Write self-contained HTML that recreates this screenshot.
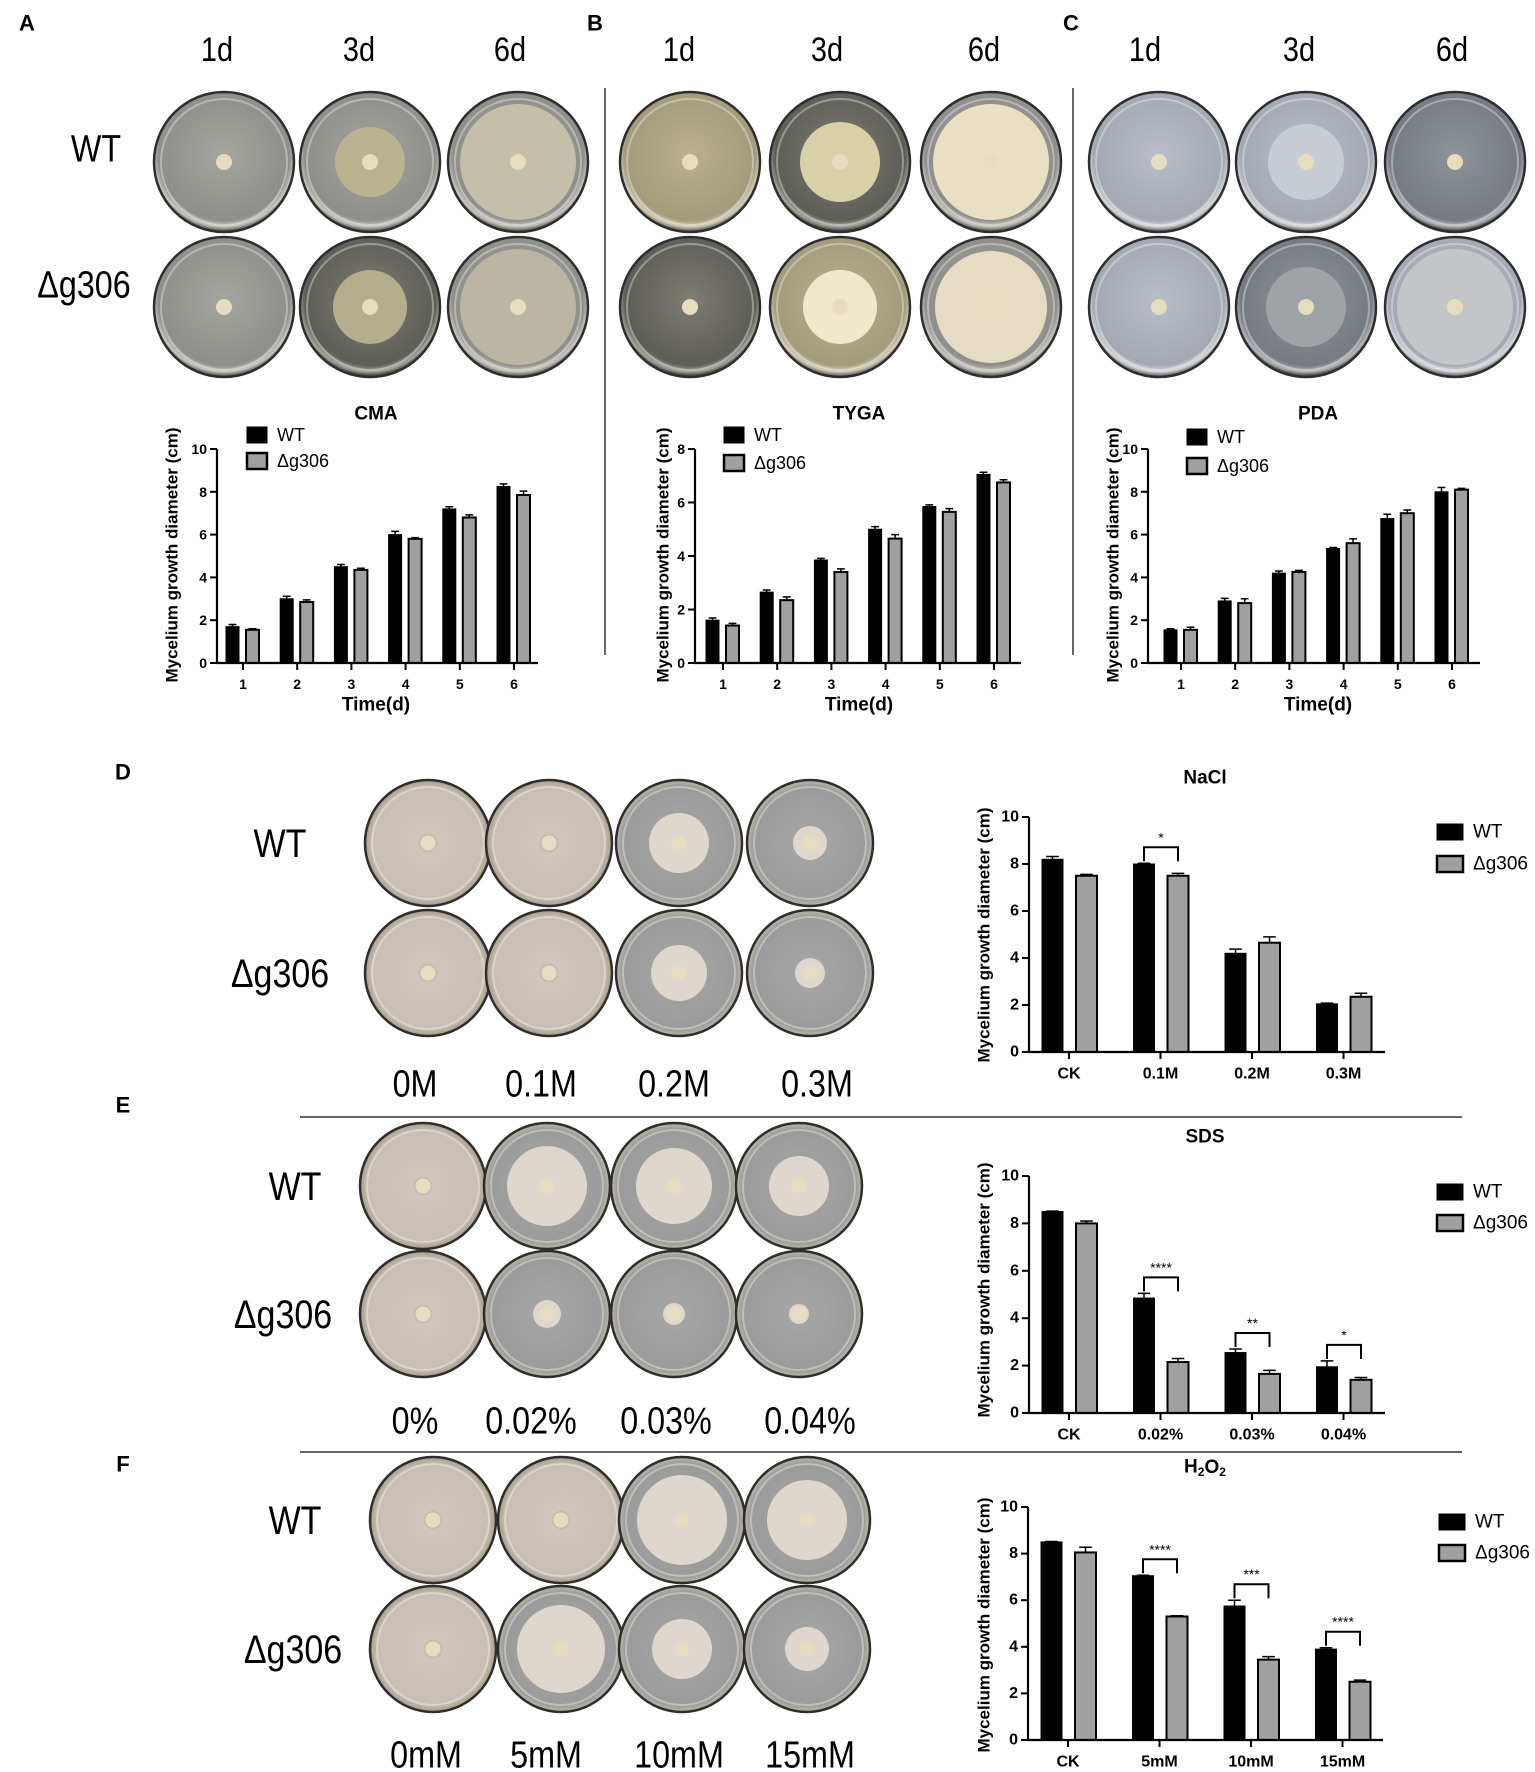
<!DOCTYPE html>
<html><head><meta charset="utf-8"><style>
html,body{margin:0;padding:0;background:#fff;}
svg{display:block;font-family:"Liberation Sans",Arial,sans-serif;}
</style></head><body>
<svg id="fig" width="1535" height="1772" viewBox="0 0 1535 1772" xmlns="http://www.w3.org/2000/svg">
<defs>
<radialGradient id="gGrey" cx="50%" cy="45%" r="55%"><stop offset="0" stop-color="#a6a6a0"/><stop offset="0.85" stop-color="#8e8e8a"/><stop offset="0.93" stop-color="#c9c7bf"/><stop offset="1" stop-color="#3c3c3c"/></radialGradient>
<radialGradient id="gDark" cx="50%" cy="45%" r="55%"><stop offset="0" stop-color="#7d7d74"/><stop offset="0.85" stop-color="#5e5e58"/><stop offset="0.93" stop-color="#a8a69b"/><stop offset="1" stop-color="#222"/></radialGradient>
<radialGradient id="gYel" cx="50%" cy="45%" r="55%"><stop offset="0" stop-color="#b8b08e"/><stop offset="0.85" stop-color="#a39c7c"/><stop offset="0.93" stop-color="#d4cfb8"/><stop offset="1" stop-color="#444"/></radialGradient>
<radialGradient id="gBlue" cx="50%" cy="45%" r="55%"><stop offset="0" stop-color="#b9bec8"/><stop offset="0.85" stop-color="#a3a8b2"/><stop offset="0.93" stop-color="#d6d8dc"/><stop offset="1" stop-color="#444"/></radialGradient>
<radialGradient id="gBlueD" cx="50%" cy="45%" r="55%"><stop offset="0" stop-color="#8e939a"/><stop offset="0.85" stop-color="#767b82"/><stop offset="0.93" stop-color="#b5b7ba"/><stop offset="1" stop-color="#222"/></radialGradient>
<radialGradient id="gBeige" cx="50%" cy="50%" r="55%"><stop offset="0" stop-color="#a08c76"/><stop offset="0.15" stop-color="#cfc7bb"/><stop offset="0.8" stop-color="#c8c0b4"/><stop offset="0.9" stop-color="#a89f8e"/><stop offset="1" stop-color="#4a4339"/></radialGradient>
<radialGradient id="gAgar" cx="50%" cy="50%" r="55%"><stop offset="0" stop-color="#a7a7a7"/><stop offset="0.82" stop-color="#9b9b9b"/><stop offset="0.9" stop-color="#bbb5a6"/><stop offset="1" stop-color="#4a4339"/></radialGradient>
</defs>
<g id="layer"></g>
</svg>
<script>
// ---------- chart data ----------
const timeCats = ["1","2","3","4","5","6"];
const cmaWT = [1.7,3.0,4.5,6.0,7.2,8.25];
const cmaKO = [1.55,2.85,4.35,5.8,6.8,7.85];
const cmaWTerr = [0.1,0.12,0.1,0.15,0.1,0.12];
const cmaKOerr = [0.05,0.1,0.08,0.06,0.12,0.18];
const tygaWT = [1.6,2.65,3.85,5.0,5.85,7.05];
const tygaKO = [1.4,2.35,3.4,4.65,5.65,6.75];
const tygaWTerr = [0.08,0.08,0.06,0.1,0.06,0.08];
const tygaKOerr = [0.08,0.12,0.12,0.15,0.12,0.1];
const pdaWT = [1.55,2.9,4.2,5.35,6.75,8.0];
const pdaKO = [1.55,2.8,4.25,5.6,7.0,8.1];
const pdaWTerr = [0.05,0.12,0.1,0.05,0.2,0.2];
const pdaKOerr = [0.12,0.2,0.08,0.2,0.15,0.06];
const naclCats = ["CK","0.1M","0.2M","0.3M"];
const naclWT = [8.2,8.0,4.2,2.05];
const naclKO = [7.5,7.5,4.65,2.35];
const naclWTerr = [0.12,0.03,0.18,0.03];
const naclKOerr = [0.06,0.1,0.25,0.15];
const naclSig = ["","*","",""];
const sdsCats = ["CK","0.02%","0.03%","0.04%"];
const sdsWT = [8.5,4.85,2.55,1.95];
const sdsKO = [8.0,2.15,1.65,1.4];
const sdsWTerr = [0.02,0.2,0.15,0.25];
const sdsKOerr = [0.1,0.15,0.15,0.1];
const sdsSig = ["","****","**","*"];
const h2o2Cats = ["CK","5mM","10mM","15mM"];
const h2o2WT = [8.5,7.05,5.75,3.9];
const h2o2KO = [8.05,5.3,3.45,2.5];
const h2o2WTerr = [0.02,0.02,0.25,0.06];
const h2o2KOerr = [0.22,0.03,0.13,0.07];
const h2o2Sig = ["","****","***","****"];
const ticks10 = [0,2,4,6,8,10];
const ticks8 = [0,2,4,6,8];

const NS="http://www.w3.org/2000/svg";
const layer=document.getElementById('layer');
function mk(tag,attrs,parent){const e=document.createElementNS(NS,tag);for(const k in attrs)e.setAttribute(k,attrs[k]);(parent||layer).appendChild(e);return e;}
function txt(x,y,s,size,opts,parent){opts=opts||{};const t=mk('text',{x:x,y:y,'font-size':size,'text-anchor':opts.anchor||'middle','font-weight':opts.bold?'bold':'normal','dominant-baseline':'central',fill:'#000'},parent);if(opts.tr)t.setAttribute('transform',opts.tr);if(opts.sx)t.setAttribute('transform','translate('+x+' '+y+') scale('+opts.sx+' 1) translate('+(-x)+' '+(-y)+')');t.textContent=s;return t;}

function chart(c){
  const g=mk('g',{});
  
  
  const yS=v=>c.y0-(v/c.ymax)*(c.y0-c.yTop);
  const xS=i=>c.t0+i*c.step;
  c.cats.forEach((cat,i)=>{
    const xc=xS(i);
    [[c.wt,c.wtErr,'#000',c.offW],[c.ko,c.koErr,'#a0a0a0',c.offK]].forEach((s,si)=>{
      const v=s[0][i],e=s[1][i],bx=xc+s[3]-c.bw/2,by=yS(v);
      const r=mk('rect',{x:bx,y:by,width:c.bw,height:c.y0-by,fill:s[2],stroke:'#000','stroke-width':si?2:1},g);
      
      
      const ex=bx+c.bw/2,ey=yS(v+e);
      mk('path',{d:`M${ex} ${by}V${ey}M${ex-c.bw*0.3} ${ey}H${ex+c.bw*0.3}`,stroke:'#000','stroke-width':1.5,fill:'none'},g);
    });
    if(c.sig && c.sig[i]){
      const top=Math.max(c.wt[i]+c.wtErr[i],c.ko[i]+c.koErr[i]);
      const by=yS(top)-c.sigGap, x1=xc+c.offW, x2=xc+c.offK;
      const p=mk('path',{d:`M${x1} ${by+14}V${by}H${x2}V${by+14}`,stroke:'#000','stroke-width':2,fill:'none'},g);
      
      
      txt((x1+x2)/2,by-10,c.sig[i],14,{},g);
    }
  });
  const ax=mk('path',{d:`M${c.ax} ${c.yTop}V${c.y0}H${c.xEnd}`,stroke:'#000','stroke-width':2.2,fill:'none'},g);
  
  
  c.ticks.forEach(t=>{const y=yS(t);mk('path',{d:`M${c.ax-7} ${y}H${c.ax}`,stroke:'#000','stroke-width':2},g);txt(c.ax-10,y,String(t),c.tf,{anchor:'end',bold:true},g);});
  c.cats.forEach((cat,i)=>{const x=xS(i);mk('path',{d:`M${x} ${c.y0}V${c.y0+7}`,stroke:'#000','stroke-width':2},g);txt(x,c.y0+c.catDy,cat,c.tf,{bold:true},g);});
  const yt=txt(c.ytx,c.yty,'Mycelium growth diameter (cm)',c.ytf,{bold:true,tr:`rotate(-90 ${c.ytx} ${c.yty})`},g);
  
  
  const ti=txt(c.titleX,c.titleY,c.title,19,{bold:true},g);
  
  
  if(c.xt){const xt=txt(c.xtX,c.xtY,'Time(d)',19,{bold:true},g);}
  [[ 'WT','#000',c.lgY1,1],['\u0394g306','#a0a0a0',c.lgY2,2.5]].forEach(l=>{
    const r=mk('rect',{x:c.lgX,y:l[2]-8,width:c.lgW,height:16,fill:l[1],stroke:'#000','stroke-width':l[3]},g);
    
    
    const t=txt(c.lgX+c.lgW+10,l[2],l[0],c.lgF,{anchor:'start'},g);
    
    
  });
}
function plate(cx,cy,r,fill,colR,colCol,name,fuzzy){
  const g=mk('g',{});
  
  
  mk('circle',{cx:cx,cy:cy,r:r,fill:'url(#'+fill+')',stroke:'#2e2e2e','stroke-width':2.5},g);
  mk('circle',{cx:cx,cy:cy,r:r-7,fill:'none',stroke:'rgba(255,255,255,0.35)','stroke-width':2},g);
  if(colR>0){mk('circle',{cx:cx,cy:cy,r:colR,fill:colCol,opacity:fuzzy?0.9:1},g);}
  mk('circle',{cx:cx,cy:cy,r:Math.min(8,r*0.12),fill:'#e6dcc0'},g);
}
const topRows=[162,307], R1=70;
const topPlates=[
 [224,0,'gGrey',0,''],[370,0,'gGrey',35,'#b9b48f'],[518,0,'gGrey',58,'#c4bfa8'],
 [224,1,'gGrey',0,''],[370,1,'gDark',37,'#b3ae8c'],[518,1,'gGrey',58,'#bab6a3'],
 [690,0,'gYel',0,''],[840,0,'gDark',40,'#d8d0a6'],[991,0,'gGrey',58,'#e8dfc4'],
 [690,1,'gDark',0,''],[840,1,'gYel',37,'#efe8cc'],[991,1,'gGrey',56,'#e6dcc4'],
 [1159,0,'gBlue',0,''],[1306,0,'gBlue',38,'#c8ccd3'],[1455,0,'gBlueD',0,''],
 [1159,1,'gBlue',0,''],[1306,1,'gBlueD',40,'#9fa3a6'],[1455,1,'gBlue',58,'#c3c5c9']
];
topPlates.forEach((p,i)=>plate(p[0],topRows[p[1]],R1,p[2],p[3],p[4],'plate-top-'+i));
const botX=[[428,549,679,810],[423,547,674,799],[433,561,682,807]];
const botY=[[843,973],[1186,1314],[1520,1649]];
const botFill=[
 [['gBeige',0],['gBeige',0],['gAgar',30],['gAgar',17]],
 [['gBeige',0],['gAgar',40],['gAgar',38],['gAgar',30]],
 [['gBeige',0],['gBeige',0],['gAgar',45],['gAgar',40]]];
const botFill2=[
 [['gBeige',0],['gBeige',0],['gAgar',28],['gAgar',15]],
 [['gBeige',0],['gAgar',14],['gAgar',11],['gAgar',10]],
 [['gBeige',0],['gAgar',44],['gAgar',30],['gAgar',22]]];
for(let p=0;p<3;p++)for(let r=0;r<2;r++)for(let k=0;k<4;k++){
  const f=(r?botFill2:botFill)[p][k];
  plate(botX[p][k],botY[p][r],63,f[0],f[1],'#e4ddd2','plate-'+'DEF'[p]+'-'+r+'-'+k,true);
}
function lab(x,y,s,size,name,opts){const t=txt(x,y,s,size,opts||{});return t;}
lab(27,23,'A',22,'panel-label-a',{bold:true});
lab(595,23,'B',22,'panel-label-b',{bold:true});
lab(1071,23,'C',22,'panel-label-c',{bold:true});
[[217,359,510],[679,827,984],[1145,1299,1452]].forEach((xs,i)=>{['1d','3d','6d'].forEach((s,j)=>lab(xs[j],49,s,34,'day-label',{sx:0.85}));});
lab(96,149,'WT',38,'row-label-wt',{sx:0.85});
lab(84,285,'\u0394g306',38,'row-label-ko',{sx:0.85});
lab(123,772,'D',22,'panel-label-d',{bold:true});
lab(123,1105,'E',22,'panel-label-e',{bold:true});
lab(123,1464,'F',22,'panel-label-f',{bold:true});
[[280,843,'WT'],[280,973,'\u0394g306'],[295,1186,'WT'],[283,1314,'\u0394g306'],[295,1520,'WT'],[293,1649,'\u0394g306']].forEach(l=>lab(l[0],l[1],l[2],40,'row-label',{sx:0.85}));
const concD=['0M','0.1M','0.2M','0.3M'],concE=['0%','0.02%','0.03%','0.04%'],concF=['0mM','5mM','10mM','15mM'];
[[concD,[415,541,674,817],1084],[concE,[415,531,666,810],1421],[concF,[426,546,679,810],1755]].forEach(c=>c[0].forEach((s,i)=>lab(c[1][i],c[2],s,38,'concentration-label',{sx:0.85})));
[[605,88,605,655],[1073,88,1073,655],[300,1117,1462,1117],[300,1452,1462,1452]].forEach(d=>{const l=mk('line',{x1:d[0],y1:d[1],x2:d[2],y2:d[3],stroke:'#333','stroke-width':1.5});});
const topCfg={step:54.2,bw:13,offW:-10.5,offK:9.5,yTop:449,y0:663,tf:14,catDy:21,ytf:17,xt:true,xtY:705,lgW:20,lgF:18};
chart(Object.assign({},topCfg,{name:'chart-cma',cats:timeCats,wt:cmaWT,ko:cmaKO,wtErr:cmaWTerr,koErr:cmaKOerr,ymax:10,ticks:ticks10,ax:217,t0:243,xEnd:538,ytx:172,yty:555,title:'CMA',titleX:376,titleY:414,xtX:376,lgX:247,lgY1:435,lgY2:461}));
chart(Object.assign({},topCfg,{name:'chart-tyga',cats:timeCats,wt:tygaWT,ko:tygaKO,wtErr:tygaWTerr,koErr:tygaKOerr,ymax:8,ticks:ticks8,ax:695,t0:723,xEnd:1021,ytx:663,yty:555,title:'TYGA',titleX:859,titleY:414,xtX:859,lgX:724,lgY1:435,lgY2:463}));
chart(Object.assign({},topCfg,{name:'chart-pda',cats:timeCats,wt:pdaWT,ko:pdaKO,wtErr:pdaWTerr,koErr:pdaKOerr,ymax:10,ticks:ticks10,ax:1148,t0:1181,xEnd:1480,ytx:1113,yty:555,title:'PDA',titleX:1318,titleY:414,xtX:1318,lgX:1187,lgY1:437,lgY2:466}));
const botCfg={step:91.5,bw:21,offW:-16.5,offK:17.5,ymax:10,ticks:ticks10,ax:1029,t0:1069,xEnd:1385,tf:16,catDy:22,ytf:17,xt:false,lgX:1437,lgW:26,lgF:19,sigGap:16,titleX:1205,ytx:984};
chart(Object.assign({},botCfg,{name:'chart-nacl',cats:naclCats,wt:naclWT,ko:naclKO,wtErr:naclWTerr,koErr:naclKOerr,sig:naclSig,yTop:817,y0:1052,yty:935,title:'NaCl',titleY:778,lgY1:832,lgY2:864}));
chart(Object.assign({},botCfg,{name:'chart-sds',cats:sdsCats,wt:sdsWT,ko:sdsKO,wtErr:sdsWTerr,koErr:sdsKOerr,sig:sdsSig,yTop:1176,y0:1413,yty:1290,title:'SDS',titleY:1137,lgY1:1192,lgY2:1223}));
chart(Object.assign({},botCfg,{name:'chart-h2o2',cats:h2o2Cats,wt:h2o2WT,ko:h2o2KO,wtErr:h2o2WTerr,koErr:h2o2KOerr,sig:h2o2Sig,yTop:1507,y0:1740,ax:1028,t0:1068,xEnd:1383,yty:1625,title:'',titleY:1467,lgX:1439,lgY1:1522,lgY2:1553}));
const ht=mk('text',{x:1205,y:1467,'font-size':19,'font-weight':'bold','text-anchor':'middle','dominant-baseline':'central'});


ht.innerHTML='H<tspan font-size="12" dy="5">2</tspan><tspan dy="-5">O</tspan><tspan font-size="12" dy="5">2</tspan>';
</script>
</body></html>
